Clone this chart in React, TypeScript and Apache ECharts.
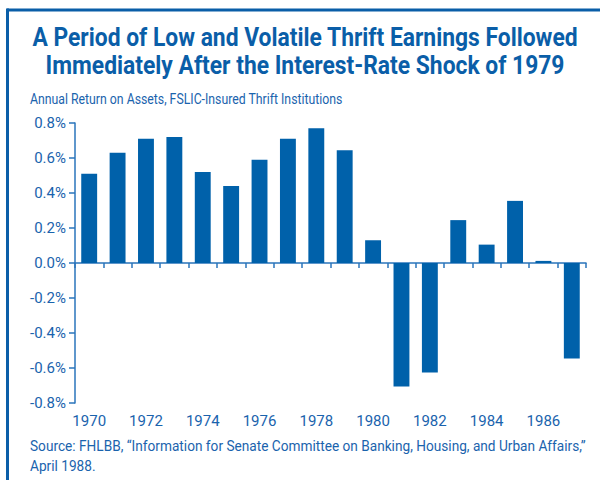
import React, { useEffect, useRef } from "react";
import * as echarts from "echarts";

const years = ["1970","1971","1972","1973","1974","1975","1976","1977","1978","1979","1980","1981","1982","1983","1984","1985","1986","1987"];
const returnOnAssets = [0.51, 0.63, 0.71, 0.72, 0.52, 0.44, 0.59, 0.71, 0.77, 0.645, 0.13, -0.705, -0.625, 0.245, 0.105, 0.355, 0.012, -0.545];
const titleLines = ["A Period of Low and Volatile Thrift Earnings Followed", "Immediately After the Interest-Rate Shock of 1979"];
const subtitle = "Annual Return on Assets, FSLIC-Insured Thrift Institutions";
const sourceLines = ["Source: FHLBB, \u201cInformation for Senate Committee on Banking, Housing, and Urban Affairs,\u201d", "April 1988."];

const FONT = "Roboto, 'Liberation Sans', sans-serif";
const BAR = "#0061aa";
const TEXT = "#1a63ad";
const AXIS = "#2a74bb";
const FRAME = "#0a5ea8";

function measure(text: string, font: string): number {
  const c = document.createElement("canvas").getContext("2d");
  if (!c) return text.length * 8;
  c.font = font;
  return c.measureText(text).width;
}

function fitScale(text: string, weight: string, size: number, target: number): number {
  const w = measure(text, `${weight} ${size}px Roboto`);
  if (!w) return 1;
  return Math.max(0.6, Math.min(1.2, target / w));
}

export default function App() {
  const ref = useRef<HTMLDivElement>(null);
  useEffect(() => {
    if (!ref.current) return;
    const chart = echarts.init(ref.current, null, { renderer: "svg" });
    const t1 = fitScale(titleLines[0], "bold", 25, 550);
    const t2 = fitScale(titleLines[1], "bold", 25, 515);
    const tScale = (t1 + t2) / 2;
    const sScale = fitScale(subtitle, "normal", 14.5, 313);
    const srcScale = fitScale(sourceLines[0], "normal", 14.5, 556);
    const mkText = (text: string, x: number, y: number, size: number, weight: string, align: string, sx: number) => ({
      type: "text",
      x,
      y,
      scaleX: sx,
      style: {
        text,
        fontFamily: FONT,
        fontSize: size,
        fontWeight: weight,
        fill: weight === "bold" ? FRAME : TEXT,
        textAlign: align,
        textVerticalAlign: "middle",
      },
    });
    chart.setOption({
      animation: false,
      backgroundColor: "#ffffff",
      textStyle: { fontFamily: FONT },
      graphic: [
        { type: "line", shape: { x1: 7, y1: 10, x2: 600, y2: 10 }, style: { stroke: FRAME, lineWidth: 3 } },
        { type: "line", shape: { x1: 7.5, y1: 8.5, x2: 7.5, y2: 480 }, style: { stroke: FRAME, lineWidth: 3 } },
        mkText(titleLines[0], 305, 38, 25, "bold", "center", tScale),
        mkText(titleLines[1], 305, 66, 25, "bold", "center", tScale),
        mkText(subtitle, 30, 99, 14.5, "normal", "left", sScale),
        mkText(sourceLines[0], 30, 446, 14.5, "normal", "left", srcScale),
        mkText(sourceLines[1], 30, 466, 14.5, "normal", "left", srcScale),
      ],
      grid: { left: 75, right: 14, top: 123, bottom: 77, containLabel: false },
      xAxis: [
        {
          type: "category",
          data: years,
          boundaryGap: true,
          axisLine: { onZero: true, lineStyle: { color: AXIS, width: 1.5 } },
          axisTick: { show: true, alignWithLabel: false, interval: 0, length: 5, lineStyle: { color: AXIS, width: 1.5 } },
          axisLabel: { show: false },
          splitLine: { show: false },
        },
        {
          type: "category",
          data: years,
          position: "bottom",
          boundaryGap: true,
          axisLine: { show: false, onZero: false },
          axisTick: { show: false },
          axisLabel: { show: true, interval: 1, color: TEXT, fontFamily: FONT, fontSize: 15, margin: 10 },
          splitLine: { show: false },
        },
      ],
      yAxis: {
        type: "value",
        min: -0.8,
        max: 0.8,
        interval: 0.2,
        axisLine: { show: true, lineStyle: { color: AXIS, width: 1.5 } },
        axisTick: { show: true, length: 6, lineStyle: { color: AXIS, width: 1.5 } },
        axisLabel: {
          color: TEXT,
          fontFamily: FONT,
          fontSize: 15,
          margin: 9,
          formatter: (v: number) => (Math.abs(v) < 1e-9 ? 0 : v).toFixed(1) + "%",
        },
        splitLine: { show: false },
      },
      series: [
        {
          type: "bar",
          xAxisIndex: 0,
          data: returnOnAssets,
          barWidth: "56%",
          itemStyle: { color: BAR },
        },
      ],
    });
    return () => chart.dispose();
  }, []);
  return <div ref={ref} style={{ position: "absolute", left: 0, top: 0, width: 600, height: 480 }} />;
}
